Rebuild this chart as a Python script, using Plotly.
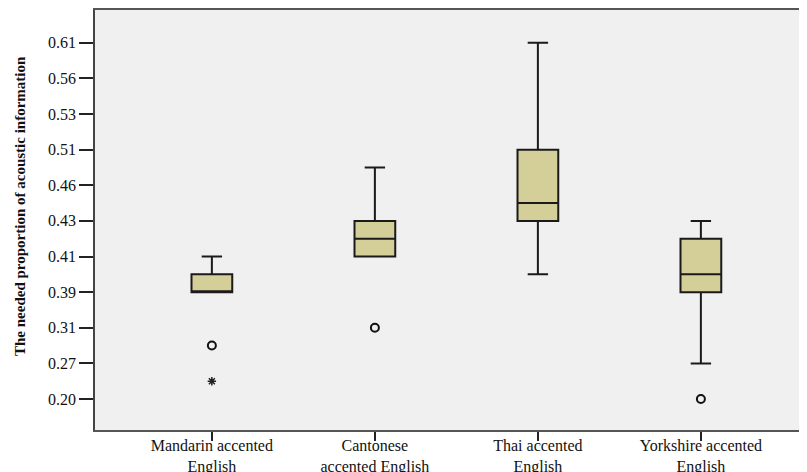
import plotly.graph_objects as go

# Categories (x axis)
categories = ["Mandarin accented<br>English", "Cantonese<br>accented English",
              "Thai accented<br>English", "Yorkshire accented<br>English"]

# Ordinal y-axis tick labels (evenly spaced on the chart)
tick_labels = ["0.20", "0.27", "0.31", "0.39", "0.41", "0.43",
               "0.46", "0.51", "0.53", "0.56", "0.61"]
tick_positions = list(range(len(tick_labels)))

# Box statistics, expressed in positions along the ordinal axis
lower_fence = [3.0, 4.0, 3.5, 1.0]
q1 = [3.0, 4.0, 5.0, 3.0]
median = [3.0, 4.5, 5.5, 3.5]
q3 = [3.5, 5.0, 7.0, 4.5]
upper_fence = [4.0, 6.5, 10.0, 5.0]

# Outliers (circles) and extreme values (stars)
outlier_x = [categories[0], categories[1], categories[3]]
outlier_y = [1.5, 2.0, 0.0]
extreme_x = [categories[0]]
extreme_y = [0.5]

FONT = "Liberation Serif"

fig = go.Figure()
fig.add_trace(go.Box(
    x=categories, q1=q1, median=median, q3=q3,
    lowerfence=lower_fence, upperfence=upper_fence,
    boxpoints=False, width=0.25, whiskerwidth=0.5,
    fillcolor="#D4CF99", line=dict(color="#1a1a1a", width=2),
    showlegend=False, hoverinfo="skip",
))
fig.add_trace(go.Scatter(
    x=outlier_x, y=outlier_y, mode="markers",
    marker=dict(symbol="circle-open", size=8, color="#111",
                line=dict(width=2, color="#111")),
    showlegend=False, hoverinfo="skip",
))
fig.add_trace(go.Scatter(
    x=extreme_x, y=extreme_y, mode="markers",
    marker=dict(symbol="asterisk-open", size=7, color="#222",
                line=dict(width=1.5, color="#222")),
    showlegend=False, hoverinfo="skip",
))

# page body has an 8px margin: figure is 799x464 placed at (8, 8)
W, H = 799, 464
L, T, B = 87, 2, 42
PW, PH = W - L, H - T - B

fig.update_layout(
    width=W, height=H,
    margin=dict(l=L, r=0, t=T, b=B, autoexpand=False),
    paper_bgcolor="white", plot_bgcolor="#F0F0F0",
    font=dict(family=FONT, color="#111"),
    xaxis=dict(
        type="category", range=[-0.717, 3.651],
        showline=True, linecolor="#555", linewidth=2, mirror=True,
        ticks="outside", ticklen=9, tickcolor="#222", tickwidth=1.5,
        tickfont=dict(family=FONT, size=16, color="#111"),
        ticklabelstandoff=-9,
        showgrid=False, zeroline=False, automargin=False,
    ),
    yaxis=dict(
        range=[-0.87, 10.92], tickmode="array",
        tickvals=tick_positions, ticktext=tick_labels,
        showline=True, linecolor="#444", linewidth=1.5,
        ticks="outside", ticklen=14, tickcolor="#222", tickwidth=1.5,
        tickfont=dict(family=FONT, size=16, color="#111"),
        showgrid=False, zeroline=False, automargin=False,
    ),
    annotations=[dict(
        text="<b>The needed proportion of acoustic information</b>",
        xref="paper", yref="paper",
        x=(20 - 95) / PW, y=(430 - 206) / PH,
        xanchor="center", yanchor="middle", textangle=-90,
        showarrow=False, font=dict(family=FONT, size=15, color="#111"),
    )],
)

fig.write_html("out.html")
